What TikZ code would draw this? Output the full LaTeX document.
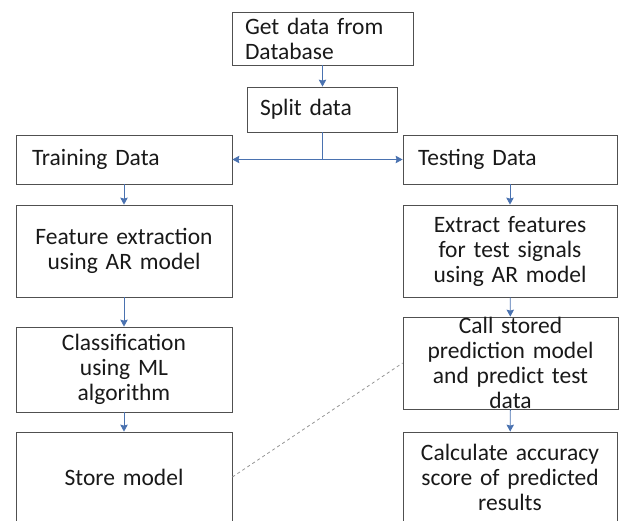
\documentclass[tikz,border=0pt]{standalone}
\usepackage{fontspec}
\setmainfont{Carlito}
\usepackage{tikz}
\usetikzlibrary{arrows,arrows.meta,shapes,positioning}
\definecolor{fcblue}{RGB}{74,114,176}
\definecolor{fcgray}{RGB}{80,80,80}
\definecolor{fcdash}{RGB}{150,150,150}
\definecolor{fctext}{RGB}{25,25,25}
\tikzstyle{stage} = [rectangle, draw=fcgray, line width=0.8pt, text=fctext, font=\fontsize{23.5}{25}\selectfont, inner ysep=0pt, align=center]
\tikzstyle{flow} = [line width=0.9pt,->,>={Stealth[length=7pt,width=7.5pt,inset=1pt]},color=fcblue]

\begin{document}
\begin{tikzpicture}[x=1pt,y=-1pt]
\useasboundingbox (0,0) rectangle (620,520);
\clip (0,0) rectangle (620,520);

% Loading and splitting
\node[stage, text width=155pt, inner xsep=13pt, minimum height=53pt, align=left] (db) at (322.5,38.5) {Get data from\\Database};
\node[stage, text width=124pt, inner xsep=13pt, minimum height=45pt, align=left] (split) at (322,109.5) {Split data};

% Training branch
\node[stage, text width=184pt, inner xsep=16pt, minimum height=49pt, align=left] (train) at (124,159.5) {Training Data};
\node[stage, text width=200pt, inner xsep=8pt, minimum height=92pt] (feat) at (124,251) {Feature extraction\\using AR model};
\node[stage, text width=200pt, inner xsep=8pt, minimum height=85pt] (cls) at (124,369.5) {Classification\\using ML\\algorithm};
\node[stage, text width=200pt, inner xsep=8pt, minimum height=90pt] (store) at (124,477) {Store model};

% Testing branch
\node[stage, text width=184pt, inner xsep=15pt, minimum height=49pt, align=left] (test) at (510,159.5) {Testing Data};
\node[stage, text width=198pt, inner xsep=8pt, minimum height=92pt] (ext) at (510,251) {Extract features\\for test signals\\using AR model};
\node[stage, text width=199pt, inner xsep=8pt, minimum height=92pt] (call) at (510.5,363) {Call stored\\prediction model\\and predict test\\data};
\node[stage, text width=198pt, inner xsep=8pt, minimum height=90pt] (calc) at (510,477) {Calculate accuracy\\score of predicted\\results};

% Arrows
\draw[flow] (db.south) -- (db.south |- split.north);
\draw[line width=0.9pt, fcblue] (split.south) -- (split.south |- train.east);
\draw[flow, <->] (train.east) -- (test.west);
\draw[flow] (train) -- (feat);
\draw[flow] (feat) -- (cls);
\draw[flow] (cls) -- (store);
\draw[flow] (test) -- (ext);
\draw[flow] (ext) -- (call);
\draw[flow] (call) -- (calc);
\draw[dashed, fcdash, line width=0.8pt] (store.east) -- (call.west);
\end{tikzpicture}
\end{document}
